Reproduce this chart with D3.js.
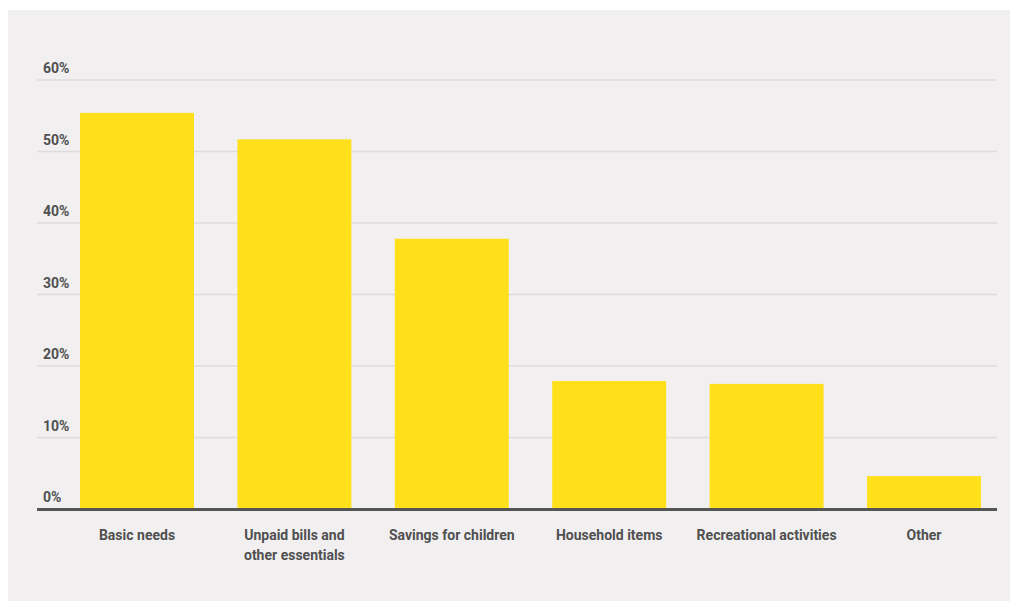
<!DOCTYPE html>
<html>
<head>
<meta charset="utf-8">
<script src="https://cdn.jsdelivr.net/npm/d3@7"></script>
<style>
  html, body { margin: 0; padding: 0; background: #ffffff; }
  svg { display: block; }
  text { font-family: Roboto, "Liberation Sans", sans-serif; font-weight: 700; fill: #505050; }
</style>
</head>
<body>
<script>
const categories = ["Basic needs", "Unpaid bills and other essentials", "Savings for children", "Household items", "Recreational activities", "Other"];
const categoryLines = [["Basic needs"], ["Unpaid bills and", "other essentials"], ["Savings for children"], ["Household items"], ["Recreational activities"], ["Other"]];
const values = [55.4, 51.7, 37.8, 17.9, 17.5, 4.6];
const yTicks = [0, 10, 20, 30, 40, 50, 60];

const W = 1010, H = 601;
const svg = d3.select("body").append("svg").attr("width", W).attr("height", H);

svg.append("rect").attr("x", 8).attr("y", 10).attr("width", W - 8).attr("height", H - 10).attr("fill", "#f1eff0");

const axisLeft = 37, axisRight = 997;
const y = d3.scaleLinear().domain([0, 60]).range([509, 80]);
const x = d3.scaleBand().domain(categories).range([58.3, 1002.7]).paddingInner(0.276).paddingOuter(0.138);

// gridlines
svg.append("g").selectAll("line").data(yTicks.filter(d => d > 0)).join("line")
  .attr("x1", axisLeft).attr("x2", axisRight)
  .attr("y1", d => y(d)).attr("y2", d => y(d))
  .attr("stroke", "#dddbdc").attr("stroke-width", 1.6);

// y labels
svg.append("g").selectAll("text").data(yTicks).join("text")
  .attr("x", 43).attr("y", d => y(d) - 7)
  .attr("font-size", 14)
  .text(d => d + "%");

// bars
svg.append("g").selectAll("rect").data(values).join("rect")
  .attr("x", (d, i) => x(categories[i]))
  .attr("width", x.bandwidth())
  .attr("y", d => y(d))
  .attr("height", d => y(0) - y(d))
  .attr("fill", "#ffe01b");

// axis line
svg.append("line").attr("x1", axisLeft).attr("x2", axisRight)
  .attr("y1", y(0) + 0.5).attr("y2", y(0) + 0.5)
  .attr("stroke", "#555555").attr("stroke-width", 3);

// x labels
const xl = svg.append("g").selectAll("text").data(categories).join("text")
  .attr("text-anchor", "middle")
  .attr("font-size", 14)
  .attr("transform", d => `translate(${x(d) + x.bandwidth() / 2},540)`);
xl.selectAll("tspan").data((d, i) => categoryLines[i]).join("tspan")
  .attr("x", 0).attr("dy", (d, j) => j === 0 ? 0 : 20)
  .text(d => d);
</script>
</body>
</html>
